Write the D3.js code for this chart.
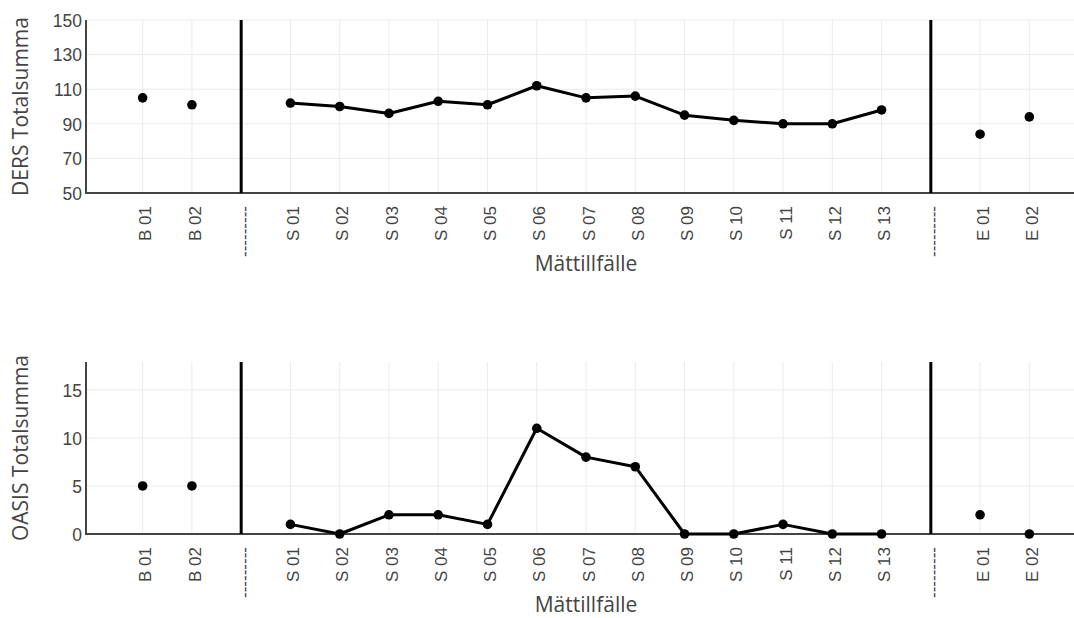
<!DOCTYPE html>
<html>
<head>
<meta charset="utf-8">
<script src="https://cdn.jsdelivr.net/npm/d3@7"></script>
<style>
  body { margin: 0; background: #fff; }
  svg { display: block; font-family: "Open Sans", sans-serif; }
</style>
</head>
<body>
<svg id="chart" width="1074" height="618"></svg>
<script>
// ---- data ----
const categories = ["B 01","B 02","sep1","S 01","S 02","S 03","S 04","S 05","S 06","S 07","S 08","S 09","S 10","S 11","S 12","S 13","sep2","E 01","E 02"];
const separators = ["sep1","sep2"];
const baselineCats = ["B 01","B 02"];
const sessionCats = ["S 01","S 02","S 03","S 04","S 05","S 06","S 07","S 08","S 09","S 10","S 11","S 12","S 13"];
const endCats = ["E 01","E 02"];

const dersBaseline = [105, 101];
const dersSession = [102, 100, 96, 103, 101, 112, 105, 106, 95, 92, 90, 90, 98];
const dersEnd = [84, 94];

const oasisBaseline = [5, 5];
const oasisSession = [1, 0, 2, 2, 1, 11, 8, 7, 0, 0, 1, 0, 0];
const oasisEnd = [2, 0];

const dersTicks = [50, 70, 90, 110, 130, 150];
const oasisTicks = [0, 5, 10, 15];
const separatorLabel = "---------";

const panels = [
  { title: "DERS Totalsumma", domain: [50, 150], ticks: dersTicks, top: 20, bottom: 193,
    base: dersBaseline, sess: dersSession, end: dersEnd },
  { title: "OASIS Totalsumma", domain: [0, 17.9], ticks: oasisTicks, top: 362, bottom: 534,
    base: oasisBaseline, sess: oasisSession, end: oasisEnd }
];

const svg = d3.select("#chart");
const left = 86, right = 1086;
const x = d3.scalePoint().domain(categories).range([left, right]).padding(1.15);

panels.forEach(p => {
  const y = d3.scaleLinear().domain(p.domain).range([p.bottom, p.top]);
  const g = svg.append("g");

  // grid
  g.append("g").selectAll("line").data(p.ticks).join("line")
    .attr("x1", left).attr("x2", 1074)
    .attr("y1", d => y(d)).attr("y2", d => y(d))
    .attr("stroke", "#ebebeb").attr("stroke-width", 1);
  g.append("g").selectAll("line").data(categories.filter(c => !separators.includes(c))).join("line")
    .attr("x1", d => x(d)).attr("x2", d => x(d))
    .attr("y1", p.top).attr("y2", p.bottom)
    .attr("stroke", "#ebebeb").attr("stroke-width", 1);

  // y axis
  const yAxis = d3.axisLeft(y).tickValues(p.ticks).tickSize(0).tickPadding(4);
  const ya = g.append("g").attr("transform", `translate(${left},0)`).call(yAxis);
  ya.select(".domain").attr("stroke", "#444").attr("stroke-width", 2).attr("d", `M0,${p.top}V${p.bottom}`);
  ya.selectAll("text").attr("fill", "#444").style("font-size", "17.5px").attr("dy", "0.36em");

  // x axis
  const xAxis = d3.axisBottom(x).tickSize(0).tickPadding(0)
    .tickFormat(d => separators.includes(d) ? separatorLabel : d);
  const xa = g.append("g").attr("transform", `translate(0,${p.bottom})`).call(xAxis);
  xa.select(".domain").attr("stroke", "#444").attr("stroke-width", 2).attr("d", `M${left - 1},0H1074`);
  xa.selectAll("text")
    .attr("fill", "#444").style("font-size", "17px")
    .attr("text-anchor", "end")
    .attr("transform", "rotate(-90)")
    .attr("x", -13).attr("y", 2).attr("dy", "0.36em");

  // separator lines
  g.append("g").selectAll("line").data(separators).join("line")
    .attr("x1", d => x(d)).attr("x2", d => x(d))
    .attr("y1", p.top).attr("y2", p.bottom)
    .attr("stroke", "#000").attr("stroke-width", 3);

  // session line
  const sessData = sessionCats.map((c, i) => ({ c, v: p.sess[i] }));
  g.append("path").datum(sessData)
    .attr("fill", "none").attr("stroke", "#000").attr("stroke-width", 3)
    .attr("stroke-linejoin", "round")
    .attr("d", d3.line().x(d => x(d.c)).y(d => y(d.v)));

  const pts = [
    ...baselineCats.map((c, i) => ({ c, v: p.base[i] })),
    ...sessData,
    ...endCats.map((c, i) => ({ c, v: p.end[i] }))
  ];
  g.append("g").selectAll("circle").data(pts).join("circle")
    .attr("cx", d => x(d.c)).attr("cy", d => y(d.v)).attr("r", 4.8).attr("fill", "#000");

  // titles
  g.append("text")
    .attr("transform", `translate(28,${(p.top + p.bottom) / 2}) rotate(-90)`)
    .attr("text-anchor", "middle").attr("fill", "#444").style("font-size", "21px")
    .text(p.title);
  g.append("text")
    .attr("x", (left + right) / 2).attr("y", p.bottom + 78)
    .attr("text-anchor", "middle").attr("fill", "#444").style("font-size", "21px")
    .text("Mättillfälle");
});
</script>
</body>
</html>
